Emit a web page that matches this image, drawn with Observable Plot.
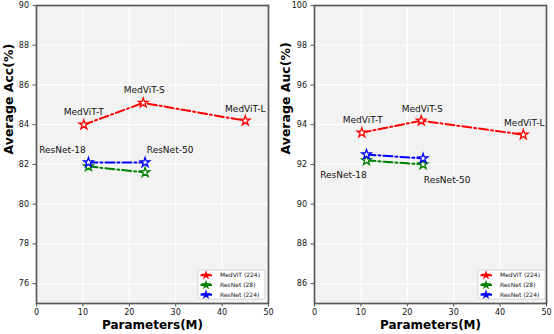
<!DOCTYPE html>
<html><head><meta charset="utf-8">
<script src="https://cdn.jsdelivr.net/npm/d3@7"></script>
<script src="https://cdn.jsdelivr.net/npm/@observablehq/plot@0.6"></script>
<style>
body{margin:0;background:#fff;font-family:"DejaVu Sans",sans-serif;}
#wrap{display:flex;width:554px;height:334px;}
.panel{position:relative;width:277px;height:334px;}
.panel svg.legend{position:absolute;}
</style>
</head><body>
<div id="wrap"></div>
<script>
const seriesNames = ["MedViT (224)", "ResNet (28)", "ResNet (224)"];
const seriesColors = ["red", "green", "blue"];
const medvitNames = ["MedViT-T", "MedViT-S", "MedViT-L"];
const medvitParams = [10.2, 23.0, 45.0];
const resnetNames = ["ResNet-18", "ResNet-50"];
const resnetParams = [11.2, 23.4];
const accMedViT = [84.0, 85.1, 84.2];
const accResNet28 = [81.9, 81.6];
const accResNet224 = [82.1, 82.1];
const aucMedViT = [93.6, 94.2, 93.5];
const aucResNet28 = [92.2, 92.0];
const aucResNet224 = [92.5, 92.3];
const xTicks = [0, 10, 20, 30, 40, 50];
const accTicks = [76, 78, 80, 82, 84, 86, 88, 90];
const aucTicks = [86, 88, 90, 92, 94, 96, 98, 100];
const accDomain = [75, 90];
const aucDomain = [85, 100];
const yLabels = ["Average Acc(%)", "Average Auc(%)"];
const xLabel = "Parameters(M)";

function rows(names, xs, ys, series) {
  return xs.map((x, i) => ({name: names[i], x, y: ys[i], series}));
}

function makePanel(cfg) {
  const mv = rows(medvitNames, medvitParams, cfg.mv, seriesNames[0]);
  const r28 = rows(resnetNames, resnetParams, cfg.r28, seriesNames[1]);
  const r224 = rows(resnetNames, resnetParams, cfg.r224, seriesNames[2]);
  const all = [...mv, ...r28, ...r224];
  const lineOpts = {x: "x", y: "y", stroke: "series", z: "series", strokeWidth: 2, strokeDasharray: "9,3,2,3"};
  const labelMarks = [];
  mv.forEach((d, i) => labelMarks.push(Plot.text([d], {x: "x", y: "y", text: "name", dx: cfg.mvOff[i][0], dy: cfg.mvOff[i][1], fontSize: 9, fill: "#111"})));
  r224.forEach((d, i) => labelMarks.push(Plot.text([d], {x: "x", y: "y", text: "name", dx: cfg.rOff[i][0], dy: cfg.rOff[i][1], fontSize: 9, fill: "#111"})));
  const chart = Plot.plot({
    width: 277, height: 334,
    marginLeft: cfg.ml, marginRight: cfg.mr, marginTop: 5, marginBottom: 31,
    x: {domain: [0, 50]},
    y: {domain: cfg.yDomain},
    color: {domain: seriesNames, range: seriesColors},
    style: {fontFamily: "DejaVu Sans", background: "transparent", color: "#111", overflow: "visible"},
    marks: [
      Plot.frame({fill: "#f2f2f2", stroke: null}),
      Plot.gridX(xTicks, {stroke: "#fff", strokeOpacity: 1, strokeWidth: 1.2}),
      Plot.gridY(cfg.yTicks, {stroke: "#fff", strokeOpacity: 1, strokeWidth: 1.2}),
      Plot.axisX(xTicks, {tickSize: 3.5, tickPadding: 2, fontSize: 8, label: null, stroke: "#555"}),
      Plot.axisY(cfg.yTicks, {tickSize: 3.5, tickPadding: 4, fontSize: 8, label: null, stroke: "#555"}),
      Plot.line(mv, lineOpts),
      Plot.line(r28, lineOpts),
      Plot.line(r224, lineOpts),
      Plot.dot(all, {x: "x", y: "y", stroke: "series", symbol: "star", r: 3, fill: "#fff", strokeWidth: 1.3}),
      Plot.frame({stroke: "#5a5a5a", strokeWidth: 1.7}),
      ...labelMarks,
      Plot.text([cfg.yLabel], {frameAnchor: "left", dx: -(cfg.ml - 8), rotate: -90, fontWeight: "bold", fontSize: 12.5, fill: "#000"}),
      Plot.text([xLabel], {frameAnchor: "bottom", dy: 25, fontWeight: "bold", fontSize: 12, fill: "#000"})
    ]
  });
  const div = document.createElement("div");
  div.className = "panel";
  div.appendChild(chart);
  const lw = 67, lh = 29;
  const lg = d3.create("svg").attr("class", "legend").attr("width", lw + 2).attr("height", lh + 2)
    .style("left", (cfg.legX - 1) + "px").style("top", (270 - 1) + "px");
  lg.append("rect").attr("x", 1).attr("y", 1).attr("width", lw).attr("height", lh).attr("rx", 2)
    .attr("fill", "#fff").attr("stroke", "#ccc").attr("stroke-width", 0.8);
  const star = d3.symbol(d3.symbolStar, 32)();
  seriesNames.forEach((name, i) => {
    const yy = 1 + 5.3 + i * 9.7;
    lg.append("line").attr("x1", 3.5).attr("x2", 15).attr("y1", yy).attr("y2", yy)
      .attr("stroke", seriesColors[i]).attr("stroke-width", 2);
    lg.append("path").attr("d", star).attr("transform", `translate(9,${yy})`).attr("fill", seriesColors[i]);
    lg.append("text").attr("x", 23).attr("y", yy).attr("dy", "0.35em").attr("font-size", 6)
      .attr("font-family", "DejaVu Sans").attr("fill", "#111").text(name);
  });
  div.appendChild(lg.node());
  return div;
}

const wrap = document.getElementById("wrap");
wrap.appendChild(makePanel({
  yDomain: accDomain, yTicks: accTicks, yLabel: yLabels[0],
  mv: accMedViT, r28: accResNet28, r224: accResNet224,
  ml: 36, mr: 9, legX: 198,
  mvOff: [[0, -13], [1, -13], [0, -12]],
  rOff: [[-26, -12], [25, -12]]
}));
wrap.appendChild(makePanel({
  yDomain: aucDomain, yTicks: aucTicks, yLabel: yLabels[1],
  mv: aucMedViT, r28: aucResNet28, r224: aucResNet224,
  ml: 37, mr: 8, legX: 201,
  mvOff: [[1, -13], [1, -12], [1, -12]],
  rOff: [[-23, 21], [24, 22]]
}));
</script>
</body></html>
